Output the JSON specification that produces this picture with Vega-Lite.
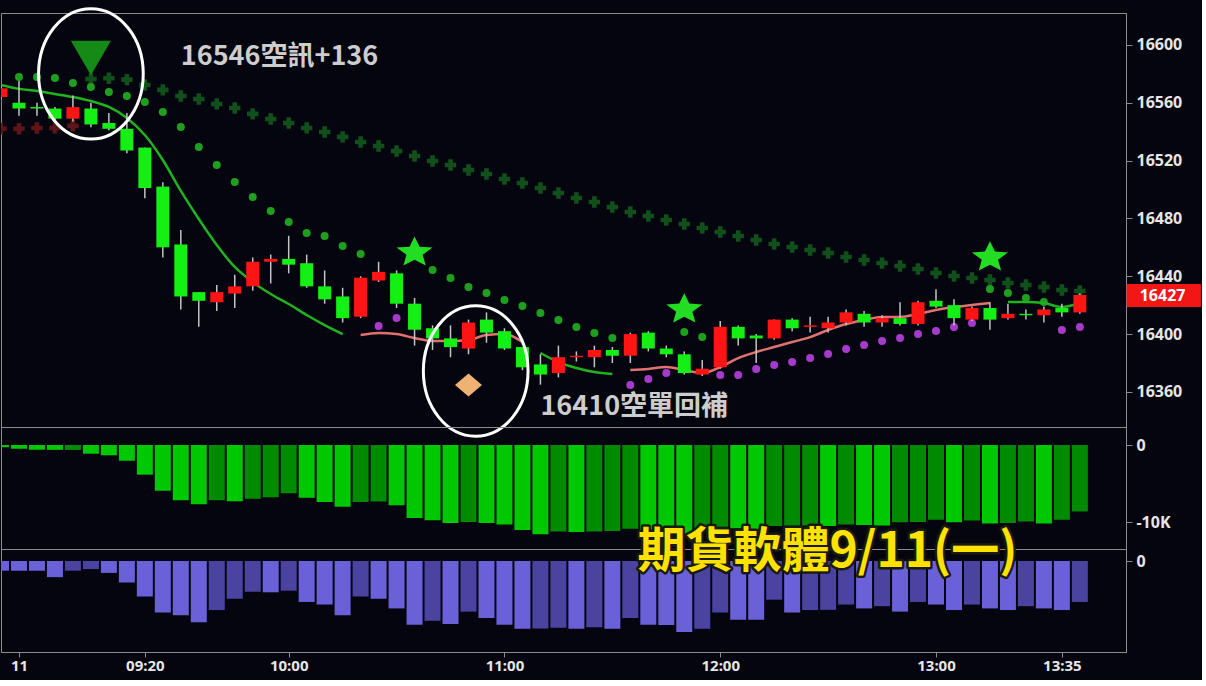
{
  "$schema": "https://vega.github.io/schema/vega-lite/v6.json",
  "background": "#05050f",
  "padding": {"top": 2, "left": 0, "right": 0, "bottom": 6},
  "spacing": 0,
  "bounds": "flush",
  "config": {
    "view": {"stroke": "#8c8c8c", "strokeWidth": 1},
    "axis": {"grid": false, "labelColor": "#e6e6e6", "labelFont": "Noto Sans", "labelFontWeight": "bold", "labelFontSize": 16, "domainColor": "#8c8c8c", "tickColor": "#8c8c8c", "tickSize": 6, "labelPadding": 4},
    "concat": {"spacing": 0}
  },
  "resolve": {"scale": {"color": "independent", "x": "independent", "y": "independent"}},
  "datasets": {
    "bars": [
      {"t":"2023-09-11T08:40","o":16564,"h":16572,"l":16563,"c":16570,"ma":16572.3,"md":"dn","sg":"A","rx":16542,"v1":-290,"s1":"F","v2":-600,"s2":"F"},
      {"t":"2023-09-11T08:45","o":16560,"h":16575,"l":16551,"c":16556,"ma":16569.6,"md":"dn","sg":"A","su":16577.9,"rx":16542,"v1":-500,"s1":"F","v2":-600,"s2":"F"},
      {"t":"2023-09-11T08:50","o":16557,"h":16560,"l":16551,"c":16556,"ma":16568.2,"md":"dn","sg":"A","su":16577.9,"rx":16542.5,"v1":-630,"s1":"F","v2":-600,"s2":"F"},
      {"t":"2023-09-11T08:55","o":16556,"h":16557,"l":16548,"c":16549,"ma":16566.1,"md":"dn","sg":"A","su":16577.2,"rx":16542.6,"v1":-630,"s1":"F","v2":-1000,"s2":"F"},
      {"t":"2023-09-11T09:00","o":16549,"h":16565,"l":16547,"c":16557,"ma":16564,"md":"dn","sg":"A","su":16573.7,"rx":16544,"v1":-640,"s1":"R","v2":-600,"s2":"R"},
      {"t":"2023-09-11T09:05","o":16556,"h":16560,"l":16543,"c":16545,"ma":16561.2,"md":"dn","sg":"A","su":16570.9,"lx":16576.5,"v1":-1130,"s1":"F","v2":-500,"s2":"R"},
      {"t":"2023-09-11T09:10","o":16546,"h":16553,"l":16541,"c":16542,"ma":16557.1,"md":"dn","sg":"A","su":16567.5,"lx":16577,"v1":-1340,"s1":"F","v2":-740,"s2":"F"},
      {"t":"2023-09-11T09:15","o":16542,"h":16553,"l":16525,"c":16527,"ma":16549.5,"md":"dn","sg":"A","su":16564.7,"lx":16576,"v1":-2050,"s1":"F","v2":-1340,"s2":"F"},
      {"t":"2023-09-11T09:20","o":16529,"h":16529,"l":16494,"c":16501,"ma":16537.7,"md":"dn","sg":"A","su":16560.6,"lx":16572.3,"v1":-3850,"s1":"F","v2":-2200,"s2":"F"},
      {"t":"2023-09-11T09:25","o":16502,"h":16505,"l":16453,"c":16460,"ma":16520.4,"md":"dn","sg":"A","su":16553.6,"lx":16568.9,"v1":-5940,"s1":"F","v2":-3200,"s2":"F"},
      {"t":"2023-09-11T09:30","o":16462,"h":16472,"l":16417,"c":16426,"ma":16499,"md":"dn","sg":"A","su":16543.3,"lx":16564.7,"v1":-7190,"s1":"F","v2":-3360,"s2":"F"},
      {"t":"2023-09-11T09:35","o":16429,"h":16429,"l":16405,"c":16423,"ma":16479.6,"md":"dn","sg":"A","su":16529.4,"lx":16562.6,"v1":-7690,"s1":"F","v2":-3800,"s2":"F"},
      {"t":"2023-09-11T09:40","o":16422,"h":16434,"l":16416,"c":16429,"ma":16461.6,"md":"dn","sg":"A","su":16517,"lx":16559.2,"v1":-7190,"s1":"R","v2":-3040,"s2":"R"},
      {"t":"2023-09-11T09:45","o":16428,"h":16441,"l":16418,"c":16433,"ma":16446.4,"md":"dn","sg":"A","su":16505.2,"lx":16556.4,"v1":-7315,"s1":"F","v2":-2340,"s2":"R"},
      {"t":"2023-09-11T09:50","o":16433,"h":16453,"l":16430,"c":16450,"ma":16436,"md":"dn","sg":"A","su":16494.8,"lx":16552.3,"v1":-6980,"s1":"R","v2":-1900,"s2":"R"},
      {"t":"2023-09-11T09:55","o":16450,"h":16455,"l":16435,"c":16452,"ma":16427.7,"md":"dn","sg":"A","su":16485.1,"lx":16548.8,"v1":-6770,"s1":"R","v2":-1940,"s2":"F"},
      {"t":"2023-09-11T10:00","o":16452,"h":16468,"l":16442,"c":16448,"ma":16420.8,"md":"dn","sg":"A","su":16477.5,"lx":16546,"v1":-6270,"s1":"R","v2":-1840,"s2":"R"},
      {"t":"2023-09-11T10:05","o":16449,"h":16455,"l":16432,"c":16433,"ma":16413.2,"md":"dn","sg":"A","su":16469.9,"lx":16542.6,"v1":-6855,"s1":"F","v2":-2540,"s2":"F"},
      {"t":"2023-09-11T10:10","o":16433,"h":16444,"l":16421,"c":16424,"ma":16406.2,"md":"dn","sg":"A","su":16467.8,"lx":16539.8,"v1":-7400,"s1":"F","v2":-2700,"s2":"F"},
      {"t":"2023-09-11T10:15","o":16426,"h":16432,"l":16408,"c":16411,"ma":16400,"md":"dn","sg":"A","su":16460.9,"lx":16536.4,"v1":-8030,"s1":"F","v2":-3360,"s2":"F"},
      {"t":"2023-09-11T10:20","o":16412,"h":16440,"l":16411,"c":16439,"ma":16399.3,"md":"up","sg":"B","su":16455.4,"lx":16532.9,"v1":-7400,"s1":"R","v2":-2200,"s2":"R"},
      {"t":"2023-09-11T10:25","o":16437,"h":16450,"l":16436,"c":16443,"ma":16400.7,"md":"up","sg":"B","sd":16405.5,"lx":16530.1,"v1":-7350,"s1":"R","v2":-2340,"s2":"F"},
      {"t":"2023-09-11T10:30","o":16442,"h":16444,"l":16418,"c":16421,"ma":16400,"md":"up","sg":"B","sd":16411.1,"lx":16526.6,"v1":-7820,"s1":"F","v2":-2940,"s2":"F"},
      {"t":"2023-09-11T10:35","o":16421,"h":16425,"l":16392,"c":16403,"ma":16397.2,"md":"up","sg":"B","lx":16523.2,"v1":-9490,"s1":"F","v2":-3960,"s2":"F"},
      {"t":"2023-09-11T10:40","o":16404,"h":16406,"l":16389,"c":16397,"ma":16395.2,"md":"up","sg":"B","su":16444.3,"lx":16519.7,"v1":-9780,"s1":"F","v2":-3700,"s2":"R"},
      {"t":"2023-09-11T10:45","o":16397,"h":16406,"l":16384,"c":16391,"ma":16395.2,"md":"up","sg":"B","su":16438.8,"lx":16517,"v1":-10115,"s1":"F","v2":-3900,"s2":"F"},
      {"t":"2023-09-11T10:50","o":16390,"h":16410,"l":16386,"c":16408,"ma":16395.9,"md":"up","sg":"B","su":16432.5,"lx":16513.5,"v1":-9990,"s1":"R","v2":-3140,"s2":"R"},
      {"t":"2023-09-11T10:55","o":16410,"h":16415,"l":16394,"c":16401,"ma":16399.3,"md":"up","sg":"B","su":16428.4,"lx":16510.7,"v1":-10115,"s1":"F","v2":-3540,"s2":"F"},
      {"t":"2023-09-11T11:00","o":16402,"h":16404,"l":16389,"c":16390,"ma":16400,"md":"up","sg":"B","su":16423.5,"lx":16507.3,"v1":-10325,"s1":"F","v2":-3960,"s2":"F"},
      {"t":"2023-09-11T11:05","o":16391,"h":16391,"l":16375,"c":16377,"ma":16394.5,"md":"up","sg":"B","su":16419.4,"lx":16504.5,"v1":-11035,"s1":"F","v2":-4200,"s2":"F"},
      {"t":"2023-09-11T11:10","o":16379,"h":16386,"l":16365,"c":16372,"ma":16386.9,"md":"dn","sg":"C","su":16414.5,"lx":16501,"v1":-11580,"s1":"F","v2":-4180,"s2":"R"},
      {"t":"2023-09-11T11:15","o":16373,"h":16392,"l":16370,"c":16384,"ma":16380.6,"md":"dn","sg":"C","su":16409.7,"lx":16497.6,"v1":-11245,"s1":"R","v2":-4140,"s2":"R"},
      {"t":"2023-09-11T11:20","o":16384,"h":16388,"l":16381,"c":16385,"ma":16376.5,"md":"dn","sg":"C","su":16404.9,"lx":16494.1,"v1":-11300,"s1":"F","v2":-4200,"s2":"F"},
      {"t":"2023-09-11T11:25","o":16384,"h":16392,"l":16377,"c":16389,"ma":16373.7,"md":"dn","sg":"C","su":16400.7,"lx":16491.4,"v1":-11245,"s1":"R","v2":-4100,"s2":"R"},
      {"t":"2023-09-11T11:30","o":16389,"h":16391,"l":16380,"c":16385,"ma":16372.3,"md":"dn","sg":"C","su":16397.2,"lx":16487.9,"v1":-11160,"s1":"R","v2":-4200,"s2":"F"},
      {"t":"2023-09-11T11:35","o":16385,"h":16401,"l":16380,"c":16400,"ma":16375.1,"md":"up","sg":"D","sd":16364.7,"lx":16484.4,"v1":-10870,"s1":"R","v2":-3540,"s2":"R"},
      {"t":"2023-09-11T11:40","o":16401,"h":16402,"l":16388,"c":16390,"ma":16375.8,"md":"up","sg":"D","sd":16368.9,"lx":16481.7,"v1":-11160,"s1":"F","v2":-3960,"s2":"F"},
      {"t":"2023-09-11T11:45","o":16390,"h":16392,"l":16384,"c":16386,"ma":16377.2,"md":"up","sg":"D","sd":16373,"lx":16478.9,"v1":-11245,"s1":"F","v2":-3970,"s2":"F"},
      {"t":"2023-09-11T11:50","o":16386,"h":16388,"l":16372,"c":16373,"ma":16375.1,"md":"up","sg":"D","su":16401.4,"lx":16476.1,"v1":-11580,"s1":"F","v2":-4400,"s2":"F"},
      {"t":"2023-09-11T11:55","o":16372,"h":16382,"l":16371,"c":16376,"ma":16373,"md":"up","sg":"D","su":16397.9,"lx":16473.4,"v1":-11160,"s1":"R","v2":-4200,"s2":"R"},
      {"t":"2023-09-11T12:00","o":16377,"h":16409,"l":16376,"c":16405,"ma":16377.2,"md":"up","sg":"D","sd":16371.6,"lx":16470.6,"v1":-10620,"s1":"R","v2":-3200,"s2":"R"},
      {"t":"2023-09-11T12:05","o":16405,"h":16406,"l":16392,"c":16397,"ma":16383.4,"md":"up","sg":"D","sd":16371.6,"lx":16467.8,"v1":-10800,"s1":"F","v2":-3640,"s2":"F"},
      {"t":"2023-09-11T12:10","o":16399,"h":16400,"l":16380,"c":16397,"ma":16387.6,"md":"up","sg":"D","sd":16375.8,"lx":16465.1,"v1":-10950,"s1":"F","v2":-3650,"s2":"F"},
      {"t":"2023-09-11T12:15","o":16397,"h":16410,"l":16396,"c":16410,"ma":16391,"md":"up","sg":"D","sd":16378.6,"lx":16462.3,"v1":-10535,"s1":"R","v2":-2400,"s2":"R"},
      {"t":"2023-09-11T12:20","o":16410,"h":16411,"l":16402,"c":16404,"ma":16394.5,"md":"up","sg":"D","sd":16380.6,"lx":16460.2,"v1":-10500,"s1":"R","v2":-3200,"s2":"F"},
      {"t":"2023-09-11T12:25","o":16405,"h":16412,"l":16401,"c":16406,"ma":16397.9,"md":"up","sg":"D","sd":16383.4,"lx":16458.1,"v1":-10450,"s1":"R","v2":-3040,"s2":"R"},
      {"t":"2023-09-11T12:30","o":16404,"h":16412,"l":16401,"c":16408,"ma":16402.8,"md":"up","sg":"D","sd":16386.2,"lx":16456.1,"v1":-10535,"s1":"F","v2":-3030,"s2":"R"},
      {"t":"2023-09-11T12:35","o":16408,"h":16417,"l":16406,"c":16415,"ma":16406.9,"md":"up","sg":"D","sd":16389.6,"lx":16453.3,"v1":-10325,"s1":"R","v2":-2700,"s2":"R"},
      {"t":"2023-09-11T12:40","o":16414,"h":16416,"l":16405,"c":16408,"ma":16409.7,"md":"up","sg":"D","sd":16392.4,"lx":16451.2,"v1":-10400,"s1":"F","v2":-2940,"s2":"F"},
      {"t":"2023-09-11T12:45","o":16408,"h":16413,"l":16405,"c":16411,"ma":16411.8,"md":"up","sg":"D","sd":16395.2,"lx":16449.1,"v1":-10450,"s1":"F","v2":-2800,"s2":"R"},
      {"t":"2023-09-11T12:50","o":16411,"h":16422,"l":16406,"c":16407,"ma":16411.8,"md":"up","sg":"D","sd":16397.2,"lx":16447.1,"v1":-10030,"s1":"R","v2":-3140,"s2":"F"},
      {"t":"2023-09-11T12:55","o":16407,"h":16423,"l":16406,"c":16422,"ma":16413.9,"md":"up","sg":"D","sd":16400,"lx":16445,"v1":-10000,"s1":"R","v2":-2540,"s2":"R"},
      {"t":"2023-09-11T13:00","o":16423,"h":16431,"l":16418,"c":16419,"ma":16416.6,"md":"up","sg":"D","sd":16402.1,"lx":16442.2,"v1":-9700,"s1":"R","v2":-2700,"s2":"F"},
      {"t":"2023-09-11T13:05","o":16420,"h":16424,"l":16406,"c":16411,"ma":16418.7,"md":"up","sg":"D","sd":16404.9,"lx":16440.1,"v1":-10030,"s1":"F","v2":-3040,"s2":"F"},
      {"t":"2023-09-11T13:10","o":16410,"h":16419,"l":16409,"c":16418,"ma":16420.1,"md":"up","sg":"D","sd":16407.6,"lx":16438.8,"v1":-9820,"s1":"R","v2":-2700,"s2":"R"},
      {"t":"2023-09-11T13:15","o":16418,"h":16422,"l":16403,"c":16410,"ma":16421.5,"md":"up","sg":"D","su":16431.2,"lx":16437.4,"v1":-10200,"s1":"F","v2":-2940,"s2":"F"},
      {"t":"2023-09-11T13:20","o":16411,"h":16421,"l":16410,"c":16414,"ma":16422.2,"md":"dn","sg":"E","su":16428.4,"lx":16435.3,"v1":-10115,"s1":"R","v2":-3040,"s2":"F"},
      {"t":"2023-09-11T13:25","o":16414,"h":16417,"l":16410,"c":16413,"ma":16422.2,"md":"dn","sg":"E","su":16424.9,"lx":16433.9,"v1":-9950,"s1":"R","v2":-2800,"s2":"R"},
      {"t":"2023-09-11T13:30","o":16413,"h":16419,"l":16408,"c":16417,"ma":16421.5,"md":"dn","sg":"E","su":16422.2,"lx":16432.5,"v1":-10200,"s1":"F","v2":-2940,"s2":"F"},
      {"t":"2023-09-11T13:35","o":16418,"h":16421,"l":16412,"c":16415,"ma":16418.7,"md":"dn","sg":"E","sd":16402.8,"lx":16430.5,"v1":-9700,"s1":"R","v2":-3040,"s2":"F"},
      {"t":"2023-09-11T13:40","o":16415,"h":16428,"l":16414,"c":16427,"ma":16421.5,"md":"dn","sg":"E","sd":16404.9,"lx":16429.8,"v1":-8650,"s1":"R","v2":-2540,"s2":"R"}
    ],
    "sig": [
      {"t":"2023-09-11T09:05","p":16591,"k":"sell"},
      {"t":"2023-09-11T10:35","p":16456.4,"k":"star"},
      {"t":"2023-09-11T11:50","p":16417,"k":"star"},
      {"t":"2023-09-11T13:15","p":16453,"k":"star"},
      {"t":"2023-09-11T10:50","p":16364.7,"k":"cover"}
    ],
    "rings": [
      {"t":"2023-09-11T09:05","p":16580},
      {"t":"2023-09-11T10:52","p":16374.4}
    ],
    "notes": [
      {"t":"2023-09-11T09:30","p":16591.7,"label":"16546空訊+136"},
      {"t":"2023-09-11T11:10","p":16349.5,"label":"16410空單回補"}
    ],
    "last": [
      {"t":"2023-09-11T14:03","p":16426.5,"label":"16427"}
    ],
    "banner": [
      {"t":"2023-09-11T11:37","v":496,"label":"期貨軟體9/11(一)"}
    ]
  },
  "vconcat": [
    {
      "width": 1125,
      "height": 414,
      "data": {"name": "bars"},
      "encoding": {
        "x": {"field": "t", "type": "temporal", "axis": null,
              "scale": {"padding": 0, "domain": [{"year":2023,"month":9,"date":11,"hours":8,"minutes":40}, {"year":2023,"month":9,"date":11,"hours":13,"minutes":52,"seconds":50}]}}
      },
      "layer": [
        {
          "mark": {"type": "point", "shape": "cross", "filled": true, "size": 130, "color": "#11501a", "opacity": 1, "clip": true},
          "encoding": {"y": {"field": "lx", "type": "quantitative",
                  "scale": {"domain": [16335.7, 16622.1], "nice": false, "zero": false, "padding": 0},
                  "axis": {"orient": "right", "format": "d", "title": null, "values": [16360, 16400, 16440, 16480, 16520, 16560, 16600]}}}
        },
        {
          "data": {"values": [{}]},
          "mark": {"type": "rule", "color": "#8c8c8c", "strokeWidth": 1},
          "encoding": {
            "x": {"datum": {"year":2023,"month":9,"date":11,"hours":13,"minutes":52,"seconds":50}, "type": "temporal"},
            "x2": {"datum": {"year":2023,"month":9,"date":11,"hours":14,"minutes":13,"seconds":40}},
            "y": {"datum": 16335.7, "type": "quantitative"}
          }
        },
        {
          "mark": {"type": "point", "shape": "cross", "filled": true, "size": 130, "color": "#5e1519", "opacity": 1, "clip": true},
          "encoding": {"y": {"field": "rx", "type": "quantitative"}}
        },
        {
          "mark": {"type": "point", "shape": "circle", "filled": true, "size": 64, "color": "#1f9f1f", "opacity": 1},
          "encoding": {"y": {"field": "su", "type": "quantitative"}}
        },
        {
          "mark": {"type": "point", "shape": "circle", "filled": true, "size": 64, "color": "#a53acb", "opacity": 1},
          "encoding": {"y": {"field": "sd", "type": "quantitative"}}
        },
        {
          "mark": {"type": "line", "strokeWidth": 2.5, "interpolate": "monotone", "clip": true},
          "encoding": {
            "y": {"field": "ma", "type": "quantitative"},
            "color": {"field": "md", "type": "nominal", "scale": {"domain": ["dn", "up"], "range": ["#1fb41f", "#e07272"]}, "legend": null},
            "detail": {"field": "sg"}
          }
        },
        {
          "mark": {"type": "rule", "color": "#c4c4c4", "strokeWidth": 1.5, "clip": true},
          "encoding": {"y": {"field": "l", "type": "quantitative"}, "y2": {"field": "h"}}
        },
        {
          "mark": {"type": "bar", "width": 13, "clip": true},
          "encoding": {
            "y": {"field": "o", "type": "quantitative"},
            "y2": {"field": "c"},
            "color": {"condition": {"test": "datum.c >= datum.o", "value": "#ff1414"}, "value": "#14f014"}
          }
        },
        {
          "data": {"name": "sig"},
          "transform": [{"filter": "datum.k == 'sell'"}],
          "mark": {"type": "point", "shape": "triangle-down", "filled": true, "size": 1600, "color": "#168a16", "opacity": 1},
          "encoding": {"y": {"field": "p", "type": "quantitative"}}
        },
        {
          "data": {"name": "sig"},
          "transform": [{"filter": "datum.k == 'star'"}],
          "mark": {"type": "point", "shape": "M0,-0.85L0.265,-0.309L0.951,-0.263L0.428,0.118L0.588,0.688L0,0.383L-0.588,0.688L-0.428,0.118L-0.951,-0.263L-0.265,-0.309Z", "filled": true, "size": 1440, "color": "#22dd22", "opacity": 1},
          "encoding": {"y": {"field": "p", "type": "quantitative"}}
        },
        {
          "data": {"name": "sig"},
          "transform": [{"filter": "datum.k == 'cover'"}],
          "mark": {"type": "point", "shape": "M-1,0L0,-0.85L1,0L0,0.85Z", "filled": true, "size": 729, "color": "#efb272", "opacity": 1},
          "encoding": {"y": {"field": "p", "type": "quantitative"}}
        },
        {
          "data": {"name": "rings"},
          "mark": {"type": "point", "shape": "M0.803,0C0.803,0.552,0.444,1,0,1C-0.444,1,-0.803,0.552,-0.803,0C-0.803,-0.552,-0.444,-1,0,-1C0.444,-1,0.803,-0.552,0.803,0Z", "filled": false, "size": 17000, "stroke": "#ffffff", "strokeWidth": 3, "opacity": 1},
          "encoding": {"y": {"field": "p", "type": "quantitative"}}
        },
        {
          "data": {"name": "notes"},
          "mark": {"type": "text", "align": "left", "baseline": "middle", "font": "Noto Sans CJK TC", "fontWeight": "bold", "fontSize": 27, "color": "#cdcdcd"},
          "encoding": {"y": {"field": "p", "type": "quantitative"}, "text": {"field": "label"}}
        },
        {
          "data": {"name": "last"},
          "mark": {"type": "rect", "color": "#f21616"},
          "encoding": {
            "x": {"datum": {"year":2023,"month":9,"date":11,"hours":13,"minutes":53}, "type": "temporal"},
            "x2": {"datum": {"year":2023,"month":9,"date":11,"hours":14,"minutes":13,"seconds":40}},
            "y": {"datum": 16434.6, "type": "quantitative"},
            "y2": {"datum": 16418.7}
          }
        },
        {
          "data": {"name": "last"},
          "mark": {"type": "text", "align": "center", "baseline": "middle", "font": "Noto Sans", "fontWeight": "bold", "fontSize": 16, "color": "#ffffff"},
          "encoding": {"y": {"field": "p", "type": "quantitative"}, "text": {"field": "label"}}
        }
      ]
    },
    {
      "width": 1125,
      "height": 122,
      "data": {"name": "bars"},
      "encoding": {
        "x": {"field": "t", "type": "temporal", "axis": null,
              "scale": {"padding": 0, "domain": [{"year":2023,"month":9,"date":11,"hours":8,"minutes":40}, {"year":2023,"month":9,"date":11,"hours":13,"minutes":52,"seconds":50}]}}
      },
      "layer": [
        {
          "mark": {"type": "bar", "width": 16, "clip": true},
          "encoding": {
            "y": {"field": "v1", "type": "quantitative", "stack": null,
                  "scale": {"domain": [-13506, 2338], "nice": false, "zero": false, "padding": 0},
                  "axis": {"orient": "right", "title": null, "values": [0, -10000], "labelExpr": "datum.value == 0 ? '0' : '-10K'"}},
            "y2": {"datum": 0},
            "color": {"field": "s1", "type": "nominal", "scale": {"domain": ["F", "R"], "range": ["#00c800", "#008a00"]}, "legend": null}
          }
        },
        {
          "data": {"values": [{}]},
          "mark": {"type": "rule", "color": "#8c8c8c", "strokeWidth": 1},
          "encoding": {
            "x": {"datum": {"year":2023,"month":9,"date":11,"hours":13,"minutes":52,"seconds":50}, "type": "temporal"},
            "x2": {"datum": {"year":2023,"month":9,"date":11,"hours":14,"minutes":13,"seconds":40}},
            "y": {"datum": -13506, "type": "quantitative"}
          }
        }
      ]
    },
    {
      "width": 1125,
      "height": 103,
      "data": {"name": "bars"},
      "encoding": {
        "x": {"field": "t", "type": "temporal",
              "scale": {"padding": 0, "domain": [{"year":2023,"month":9,"date":11,"hours":8,"minutes":40}, {"year":2023,"month":9,"date":11,"hours":13,"minutes":52,"seconds":50}]},
              "axis": {"orient": "bottom", "title": null, "tickSize": 5, "labelFontSize": 15, "labelPadding": 1,
                       "values": [{"year":2023,"month":9,"date":11,"hours":8,"minutes":45}, {"year":2023,"month":9,"date":11,"hours":9,"minutes":20}, {"year":2023,"month":9,"date":11,"hours":10,"minutes":0}, {"year":2023,"month":9,"date":11,"hours":11,"minutes":0}, {"year":2023,"month":9,"date":11,"hours":12,"minutes":0}, {"year":2023,"month":9,"date":11,"hours":13,"minutes":0}, {"year":2023,"month":9,"date":11,"hours":13,"minutes":35}],
                       "labelExpr": "hours(datum.value) == 8 ? '11' : timeFormat(datum.value, '%H:%M')"}}
      },
      "layer": [
        {
          "mark": {"type": "bar", "width": 16, "clip": true},
          "encoding": {
            "y": {"field": "v2", "type": "quantitative", "stack": null,
                  "scale": {"domain": [-5642, 744], "nice": false, "zero": false, "padding": 0},
                  "axis": {"orient": "right", "title": null, "values": [0]}},
            "y2": {"datum": 0},
            "color": {"field": "s2", "type": "nominal", "scale": {"domain": ["F", "R"], "range": ["#6a60d8", "#4a43a0"]}, "legend": null}
          }
        },
        {
          "data": {"values": [{}]},
          "mark": {"type": "rule", "color": "#8c8c8c", "strokeWidth": 1},
          "encoding": {
            "x": {"datum": {"year":2023,"month":9,"date":11,"hours":13,"minutes":52,"seconds":50}, "type": "temporal"},
            "x2": {"datum": {"year":2023,"month":9,"date":11,"hours":14,"minutes":13,"seconds":40}},
            "y": {"datum": -5642, "type": "quantitative"}
          }
        },
        {
          "data": {"name": "banner"},
          "mark": {"type": "text", "align": "left", "baseline": "middle", "font": "Noto Sans CJK TC", "fontWeight": "bold", "fontSize": 48, "color": "#1a1a10", "stroke": "#1a1a10", "strokeWidth": 5, "strokeJoin": "round"},
          "encoding": {"y": {"field": "v", "type": "quantitative"}, "text": {"field": "label"}}
        },
        {
          "data": {"name": "banner"},
          "mark": {"type": "text", "align": "left", "baseline": "middle", "font": "Noto Sans CJK TC", "fontWeight": "bold", "fontSize": 48, "color": "#ffe200"},
          "encoding": {"y": {"field": "v", "type": "quantitative"}, "text": {"field": "label"}}
        }
      ]
    }
  ]
}
